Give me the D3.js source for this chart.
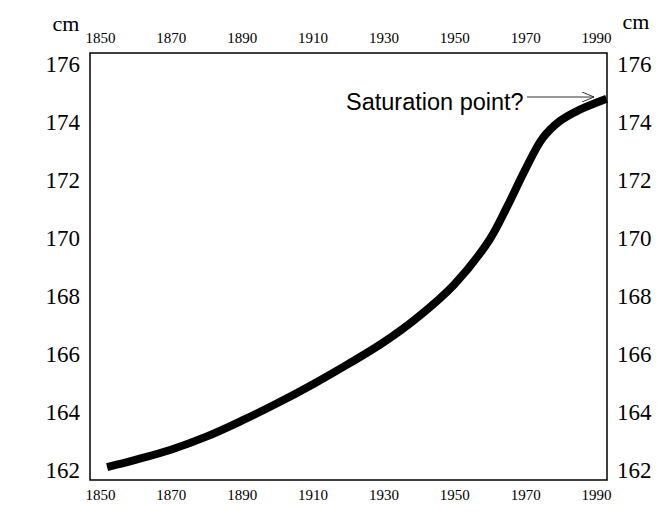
<!DOCTYPE html>
<html>
<head>
<meta charset="utf-8">
<script src="https://cdn.jsdelivr.net/npm/d3@7"></script>
<style>
  html, body { margin: 0; padding: 0; background: #fff; }
  svg { display: block; }
</style>
</head>
<body>
<svg id="chart" width="667" height="513"></svg>
<script>
// ---- data ----
const years   = [1852, 1860, 1870, 1880, 1890, 1900, 1910, 1920, 1930, 1940, 1950, 1960, 1965, 1970, 1975, 1980, 1985, 1993];
const heights = [162.1, 162.35, 162.7, 163.15, 163.7, 164.3, 164.95, 165.65, 166.4, 167.3, 168.4, 169.95, 171.1, 172.35, 173.45, 174.05, 174.4, 174.8];
const yearTicks = [1850, 1870, 1890, 1910, 1930, 1950, 1970, 1990];
const cmTicks = [162, 164, 166, 168, 170, 172, 174, 176];
const unitLabel = "cm";
const annotation = "Saturation point?";

// ---- layout ----
const svg = d3.select("#chart");
const frame = { left: 90, right: 607, top: 53, bottom: 480 };
const x = d3.scaleLinear().domain([1850, 1990]).range([100, 596]);
const y = d3.scaleLinear().domain([162, 176]).range([470, 64]);

const serif = "'Liberation Serif', 'Times New Roman', serif";
const sans = "'Liberation Sans', Arial, sans-serif";

// frame
svg.append("rect")
  .attr("x", frame.left).attr("y", frame.top)
  .attr("width", frame.right - frame.left)
  .attr("height", frame.bottom - frame.top)
  .attr("fill", "none").attr("stroke", "#000").attr("stroke-width", 1.5);

// axes (labels only)
function styleAxis(g, size) {
  g.attr("font-family", null).attr("font-size", null);
  g.select(".domain").remove();
  g.selectAll(".tick line").remove();
  g.selectAll(".tick text")
    .style("font-family", serif).style("font-size", size + "px").attr("fill", "#000");
}
svg.append("g").attr("transform", "translate(0,38)")
  .call(d3.axisTop(x).tickValues(yearTicks).tickFormat(d3.format("d")).tickSize(0).tickPadding(0))
  .call(g => styleAxis(g, 15))
  .call(g => g.selectAll(".tick text").attr("dy", "0.35em").attr("y", 0));
svg.append("g").attr("transform", "translate(0,495)")
  .call(d3.axisBottom(x).tickValues(yearTicks).tickFormat(d3.format("d")).tickSize(0).tickPadding(0))
  .call(g => styleAxis(g, 15))
  .call(g => g.selectAll(".tick text").attr("dy", "0.35em").attr("y", 0));
svg.append("g").attr("transform", "translate(80,0)")
  .call(d3.axisLeft(y).tickValues(cmTicks).tickFormat(d3.format("d")).tickSize(0).tickPadding(0))
  .call(g => styleAxis(g, 23));
svg.append("g").attr("transform", "translate(617,0)")
  .call(d3.axisRight(y).tickValues(cmTicks).tickFormat(d3.format("d")).tickSize(0).tickPadding(0))
  .call(g => styleAxis(g, 23));

// unit labels
svg.append("text").attr("x", 66).attr("y", 31).attr("text-anchor", "middle")
  .style("font-family", serif).style("font-size", "22px").text(unitLabel);
svg.append("text").attr("x", 636).attr("y", 29).attr("text-anchor", "middle")
  .style("font-family", serif).style("font-size", "22px").text(unitLabel);

// line
const line = d3.line().x((d, i) => x(years[i])).y(d => y(d)).curve(d3.curveCatmullRom.alpha(0.5));
svg.append("path").datum(heights)
  .attr("d", line)
  .attr("fill", "none").attr("stroke", "#000").attr("stroke-width", 8)
  .attr("stroke-linejoin", "round");

// annotation
svg.append("defs").append("marker")
  .attr("id", "arr").attr("viewBox", "0 0 12 10").attr("refX", 12).attr("refY", 5)
  .attr("markerWidth", 12).attr("markerHeight", 10).attr("markerUnits", "userSpaceOnUse")
  .attr("orient", "auto")
  .append("path").attr("d", "M0,0 L12,5 L0,10").attr("fill", "none").attr("stroke", "#333").attr("stroke-width", 1);
svg.append("text").attr("x", 346).attr("y", 110)
  .style("font-family", sans).style("font-size", "23.5px").attr("fill", "#000").text(annotation);
svg.append("line").attr("x1", 527).attr("y1", 97).attr("x2", 594).attr("y2", 97)
  .attr("stroke", "#333").attr("stroke-width", 1).attr("marker-end", "url(#arr)");
</script>
</body>
</html>
